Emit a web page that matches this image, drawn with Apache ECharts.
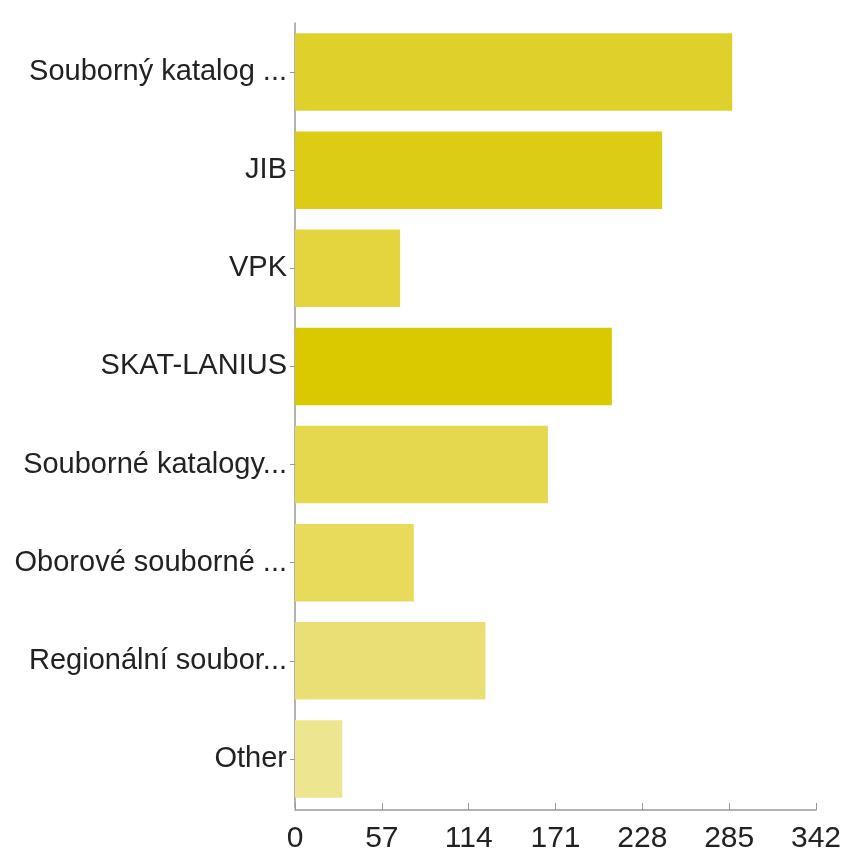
<!DOCTYPE html>
<html>
<head>
<meta charset="utf-8">
<script src="https://cdn.jsdelivr.net/npm/echarts@6/dist/echarts.min.js"></script>
<style>
html,body{margin:0;padding:0;background:#fff;}
#chart{width:844px;height:863px;}
</style>
</head>
<body>
<div id="chart"></div>
<script>
const categories = ["Souborný katalog ...", "JIB", "VPK", "SKAT-LANIUS", "Souborné katalogy...", "Oborové souborné ...", "Regionální soubor...", "Other"];
const values = [287, 241, 69, 208, 166, 78, 125, 31];
const barColors = ["#e0d02c", "#dccc14", "#e4d53e", "#dbc900", "#e6d84e", "#e8da5a", "#eadf74", "#eee590"];
const xTicks = [0, 57, 114, 171, 228, 285, 342];

const FONT = '"Liberation Sans", Arial, sans-serif';
const chart = echarts.init(document.getElementById('chart'));
chart.setOption({
  animation: false,
  backgroundColor: '#ffffff',
  grid: { left: 295, right: 28, top: 23, bottom: 55, containLabel: false, outerBoundsMode: 'none' },
  xAxis: {
    type: 'value',
    min: xTicks[0],
    max: xTicks[xTicks.length - 1],
    interval: xTicks[1] - xTicks[0],
    offset: 2,
    axisLine: { show: true, lineStyle: { color: '#999', width: 1.5 } },
    axisTick: { show: true, inside: true, length: 7, lineStyle: { color: '#999' } },
    splitLine: { show: false },
    axisLabel: { color: '#222', fontSize: 30, fontFamily: FONT, margin: 14 }
  },
  yAxis: {
    type: 'category',
    data: categories,
    inverse: true,
    axisLine: { show: true, lineStyle: { color: '#999', width: 1.5 } },
    axisTick: { show: true, alignWithLabel: true, length: 5, lineStyle: { color: '#999' } },
    axisLabel: { color: '#222', fontSize: 29, fontFamily: FONT, margin: 8 }
  },
  series: [{
    type: 'bar',
    data: values.map((v, i) => ({ value: v, itemStyle: { color: barColors[i] } })),
    barCategoryGap: '21%'
  }]
});
</script>
</body>
</html>
